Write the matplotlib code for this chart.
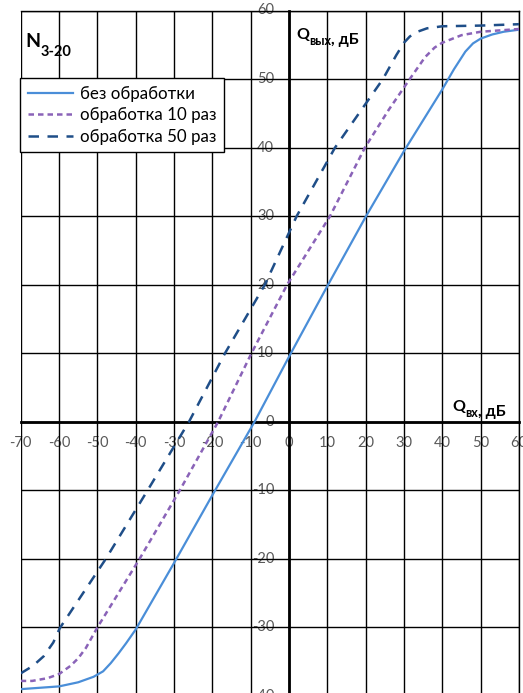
import matplotlib
matplotlib.use("Agg")
import matplotlib.pyplot as plt
from matplotlib.transforms import offset_copy

plt.rcParams['font.family'] = ['Lato', 'Open Sans', 'DejaVu Sans']

# ---- data ----
x_raw = [-70, -60, -55, -51, -48.5, -46.5, -44.5, -42.5, -40, -30, -20, -9, 0, 10, 20, 30, 40,
         43, 46, 48, 50, 53, 56, 60]
y_raw = [-39.0, -38.6, -38.0, -37.2, -36.4, -35.2, -33.8, -32.3, -30.3, -20.6, -10.7, 0, 9.5,
         19.8, 29.9, 39.5, 48.5, 51.4, 54.0, 55.2, 55.9, 56.5, 56.9, 57.2]

x_10 = [-70, -67, -63, -60, -57, -55, -53, -51.5, -50, -39, -28.5, -18.5, -9.8, -0.5, 10.7,
        19.8, 26, 31.5, 35.5, 38, 40, 45, 50, 60]
y_10 = [-37.8, -37.8, -37.4, -36.8, -35.6, -34.5, -33.0, -31.5, -30.0, -20, -10, 0, 10, 20,
        30, 40, 45.5, 50, 53.2, 54.6, 55.3, 56.4, 56.9, 57.3]

x_50 = [-70, -66.8, -64, -61.5, -59.8, -47.8, -36.9, -26.1, -16.7, -6.3, 2, 12, 24.5, 28, 30,
        31.5, 33, 36, 40, 50, 60]
y_50 = [-36.7, -35.6, -34.2, -32.2, -30.1, -20, -10, 0, 10, 20, 30, 40, 50, 53.5, 55.3,
        56.2, 56.8, 57.4, 57.7, 57.8, 58.0]

series_labels = ["без обработки", "обработка 10 раз", "обработка 50 раз"]
x_ticks = list(range(-70, 61, 10))
y_ticks = list(range(-40, 61, 10))

# ---- figure ----
W, H = 523, 693
fig = plt.figure(figsize=(W / 100, H / 100), dpi=100)
left = 20.7 / W
right = 519.0 / W
top = 1 - 10.5 / H
bottom = 1 - 696.0 / H
ax = fig.add_axes([left, bottom, right - left, top - bottom])
ax.set_xlim(-70, 60)
ax.set_ylim(-40, 60)

ax.set_xticks(x_ticks)
ax.set_yticks(y_ticks)
ax.set_xticklabels([])
ax.set_yticklabels([])
ax.tick_params(length=0)
ax.grid(True, color='black', lw=1.0)
ax.set_axisbelow(False)

for s in ['top', 'right']:
    ax.spines[s].set_linewidth(1.0)
ax.spines['left'].set_position(('data', 0))
ax.spines['bottom'].set_position(('data', 0))
ax.spines['left'].set_linewidth(2.0)
ax.spines['bottom'].set_linewidth(2.0)
ax.spines['left'].set_zorder(2.6)
ax.spines['bottom'].set_zorder(2.6)

c_raw = '#4a8ed8'
c_10 = '#8a63b8'
c_50 = '#1f4e88'

ax.plot(x_raw, y_raw, color=c_raw, lw=1.6, zorder=3, label=series_labels[0])
ax.plot(x_10, y_10, color=c_10, lw=1.8, ls=(0, (2.2, 1.6)), zorder=3, label=series_labels[1])
ax.plot(x_50, y_50, color=c_50, lw=1.8, ls=(0, (4.2, 3.4)), zorder=3, label=series_labels[2])

# tick labels (drawn under the grid)
tick_col = '#595959'
tfs = 10.5
tr_x = offset_copy(ax.transData, fig=fig, x=0, y=-21, units='dots')
for v in x_ticks:
    ax.text(v, 0, str(v), transform=tr_x, ha='center', va='center', fontsize=tfs,
            color=tick_col, zorder=1, clip_on=False)
tr_y = offset_copy(ax.transData, fig=fig, x=-15, y=0, units='dots')
for v in y_ticks:
    ax.text(0, v, str(v), transform=tr_y, ha='right', va='center', fontsize=tfs,
            color=tick_col, zorder=1, clip_on=False)

# axis titles with subscripts
def sub_label(x_px, y_px, main, sub, tail, fs_main, fs_sub, sub_drop):
    t1 = fig.text(x_px / W, 1 - y_px / H, main, fontsize=fs_main, fontweight='bold',
                  ha='left', va='baseline')
    ann = ax.annotate(sub, xy=(1, 0), xycoords=t1, xytext=(0.3, -sub_drop),
                      textcoords='offset points', fontsize=fs_sub, fontweight='bold',
                      ha='left', va='baseline', annotation_clip=False, zorder=6)
    if tail:
        ax.annotate(tail, xy=(1, 0), xycoords=ann, xytext=(0, sub_drop),
                    textcoords='offset points', fontsize=fs_main, fontweight='bold',
                    ha='left', va='baseline', annotation_clip=False, zorder=6)

sub_label(296, 39, "Q", "вых", ", дБ", 11.5, 9, 2.0)
sub_label(452, 411, "Q", "вх", ", дБ", 11.5, 9, 2.0)
sub_label(25, 47, "N", "3-20", "", 14, 10.5, 4)

leg = ax.legend(loc='upper left', bbox_to_anchor=(20 / W, 1 - 78 / H),
                bbox_transform=fig.transFigure, fontsize=12.2, frameon=True,
                fancybox=False, edgecolor='black', framealpha=1, borderaxespad=0,
                handlelength=2.7, handletextpad=0.4, labelspacing=0.33, borderpad=0.45)
leg.get_frame().set_linewidth(1.0)
leg.set_zorder(5)

fig.savefig("out.png", dpi=100)
